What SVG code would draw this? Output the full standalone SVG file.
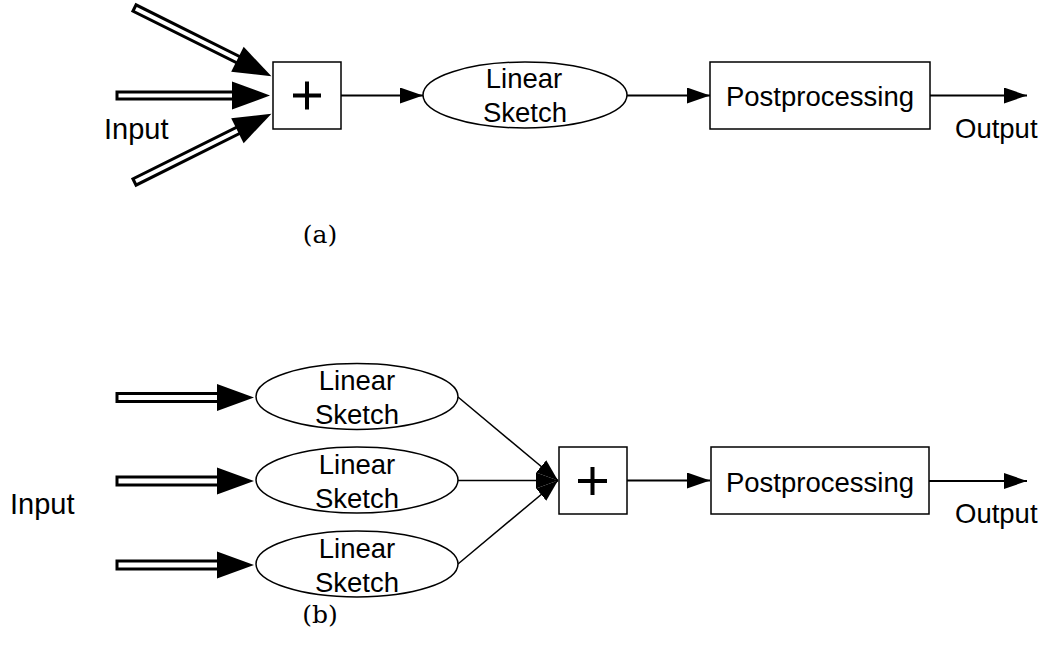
<svg xmlns="http://www.w3.org/2000/svg" xmlns:xlink="http://www.w3.org/1999/xlink" width="1060" height="653" viewBox="0 0 1060 653">
<style>
.box{fill:#fff;stroke:#000;stroke-width:1.5}
.ell{fill:#fff;stroke:#000;stroke-width:1.5}
.plus{stroke:#000;stroke-width:4;fill:none}
.shaft{fill:#fff;stroke:#000;stroke-width:3}
.head{fill:#000}
.ln{stroke:#000;stroke-width:2;fill:none}
.thin{stroke:#000;stroke-width:1.5;fill:none}
.t{font-family:"Liberation Sans",Arial,sans-serif;font-size:27.5px;fill:#000}
.io{font-family:"Liberation Sans",Arial,sans-serif;font-size:29px;fill:#000}
.cap{font-family:"DejaVu Serif","Liberation Serif",serif;font-size:25px;fill:#000;text-anchor:middle}
</style>
<defs>
<g id="hollowA">
<rect class="shaft" x="0" y="-3.5" width="117" height="7"/>
<polygon class="head" points="115,-14 153,0 115,14"/>
</g>
<g id="hollowB">
<rect class="shaft" x="0" y="-4" width="102" height="8"/>
<polygon class="head" points="100,-13.5 137,0 100,13.5"/>
</g>
<marker id="arr" markerUnits="userSpaceOnUse" viewBox="0 0 23 16" markerWidth="23" markerHeight="16" refX="23" refY="8" orient="auto">
<path d="M0,0 L23,8 L0,16 z" fill="#000"/>
</marker>
<marker id="arrs" markerUnits="userSpaceOnUse" viewBox="0 0 22 16" markerWidth="22" markerHeight="16" refX="22" refY="8" orient="auto">
<path d="M0,0 L22,8 L0,16 z" fill="#000"/>
</marker>
</defs>

<g id="connectors">
<!-- (a) -->
<use xlink:href="#hollowA" transform="translate(134.5,8) rotate(26.5)"/>
<use xlink:href="#hollowA" transform="translate(117,95.5)"/>
<use xlink:href="#hollowA" transform="translate(134.5,182) rotate(-26.5)"/>
<line class="ln" x1="341" y1="95.5" x2="423" y2="95.5" marker-end="url(#arr)"/>
<line class="ln" x1="627" y1="95.5" x2="710" y2="95.5" marker-end="url(#arr)"/>
<line class="ln" x1="930" y1="95.5" x2="1027" y2="95.5" marker-end="url(#arr)"/>
<!-- (b) -->
<use xlink:href="#hollowB" transform="translate(117,397.5)"/>
<use xlink:href="#hollowB" transform="translate(117,481)"/>
<use xlink:href="#hollowB" transform="translate(117,565)"/>
<line class="thin" x1="458" y1="397" x2="558" y2="480.5" marker-end="url(#arrs)"/>
<line class="thin" x1="458" y1="480.5" x2="558" y2="480.5" marker-end="url(#arrs)"/>
<line class="thin" x1="458" y1="564" x2="558" y2="480.5" marker-end="url(#arrs)"/>
<line class="ln" x1="627" y1="480.5" x2="710" y2="480.5" marker-end="url(#arr)"/>
<line class="ln" x1="929" y1="481" x2="1027" y2="481" marker-end="url(#arr)"/>
</g>

<g id="a-sum">
<rect class="box" x="273" y="62" width="68" height="67"/>
<path class="plus" d="M293,95.5 H321 M307,81.5 V109.5"/>
</g>
<g id="a-sketch">
<ellipse class="ell" cx="525" cy="95" rx="102" ry="33"/>
<text class="t" x="524" y="88" text-anchor="middle">Linear</text>
<text class="t" x="525" y="122" text-anchor="middle">Sketch</text>
</g>
<g id="a-post">
<rect class="box" x="710" y="62" width="220" height="67"/>
<text class="t" x="820" y="106" text-anchor="middle">Postprocessing</text>
</g>
<g id="a-labels">
<text class="io" x="104" y="139">Input</text>
<text class="t" x="955" y="138">Output</text>
<text class="cap" x="320" y="243">(a)</text>
</g>

<g id="b-sketch1">
<ellipse class="ell" cx="357" cy="396.5" rx="101" ry="33"/>
<text class="t" x="357" y="390" text-anchor="middle">Linear</text>
<text class="t" x="357" y="424" text-anchor="middle">Sketch</text>
</g>
<g id="b-sketch2">
<ellipse class="ell" cx="357" cy="480" rx="101" ry="33"/>
<text class="t" x="357" y="474" text-anchor="middle">Linear</text>
<text class="t" x="357" y="508" text-anchor="middle">Sketch</text>
</g>
<g id="b-sketch3">
<ellipse class="ell" cx="357" cy="564" rx="101" ry="33"/>
<text class="t" x="357" y="558" text-anchor="middle">Linear</text>
<text class="t" x="357" y="592" text-anchor="middle">Sketch</text>
</g>
<g id="b-sum">
<rect class="box" x="559" y="447" width="68" height="67"/>
<path class="plus" d="M578,481 H607 M592.5,467 V495"/>
</g>
<g id="b-post">
<rect class="box" x="711" y="447" width="218" height="67"/>
<text class="t" x="820" y="492" text-anchor="middle">Postprocessing</text>
</g>
<g id="b-labels">
<text class="io" x="10" y="514">Input</text>
<text class="t" x="955" y="523">Output</text>
<text class="cap" x="320" y="623">(b)</text>
</g>
</svg>
